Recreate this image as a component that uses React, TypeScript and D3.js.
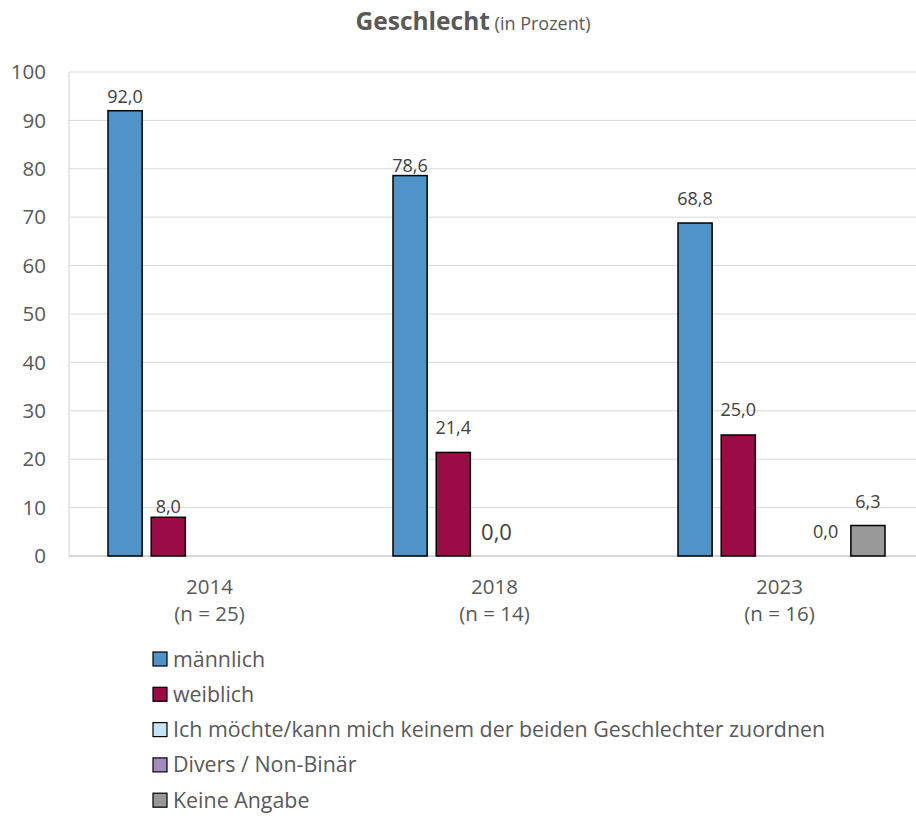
import React, { useEffect, useRef } from "react";
import * as d3 from "d3";

// Werte aus der Grafik (in Prozent)
const years = ["2014", "2018", "2023"];
const sampleSizes = ["(n = 25)", "(n = 14)", "(n = 16)"];
const seriesNames = [
  "männlich",
  "weiblich",
  "Ich möchte/kann mich keinem der beiden Geschlechter zuordnen",
  "Divers / Non-Binär",
  "Keine Angabe",
];
const maennlich = [92.0, 78.6, 68.8];
const weiblich = [8.0, 21.4, 25.0];
const keinemZuordnen: (number | null)[] = [null, 0.0, null];
const divers: (number | null)[] = [null, null, 0.0];
const keineAngabe: (number | null)[] = [null, null, 6.3];
const yTicks = [0, 10, 20, 30, 40, 50, 60, 70, 80, 90, 100];

const seriesValues = [maennlich, weiblich, keinemZuordnen, divers, keineAngabe];
const colors = ["#4f93c8", "#9b0b45", "#c6e3f4", "#a18bbf", "#999999"];

// Abstand Label-Bar wie im Original (manuell verschoben in Excel)
const labelGap = [
  [14, 10, 24],
  [11, 25, 25],
  [0, 24, 0],
  [0, 0, 23],
  [0, 0, 24],
];

const W = 916;
const H = 819;
const left = 69;
const top = 72;
const bottom = 556;
const step = 285;
const font = "'Open Sans', sans-serif";

const GenderChart: React.FC = () => {
  const ref = useRef<SVGSVGElement | null>(null);

  useEffect(() => {
    const svg = d3.select(ref.current);
    svg.selectAll("*").remove();

    const y = d3.scaleLinear().domain([0, 100]).range([bottom, top]);
    const x0 = d3.scaleBand().domain(years).range([left, left + 3 * step]);
    const x1 = d3
      .scaleBand()
      .domain(seriesNames)
      .range([39, 246])
      .paddingInner(0.21);

    // Titel
    const title = svg
      .append("text")
      .attr("x", 473)
      .attr("y", 30)
      .attr("text-anchor", "middle")
      .attr("fill", "#595959")
      .style("font-family", font);
    title.append("tspan").attr("font-weight", "bold").attr("font-size", 24.5).text("Geschlecht");
    title.append("tspan").attr("font-size", 18).text(" (in Prozent)");

    // Gitterlinien
    svg
      .append("g")
      .selectAll("line")
      .data(yTicks.filter((t) => t > 0))
      .join("line")
      .attr("x1", left)
      .attr("x2", W)
      .attr("y1", (d) => y(d))
      .attr("y2", (d) => y(d))
      .attr("stroke", "#d9d9d9")
      .attr("stroke-width", 1);

    // Achsen
    svg
      .append("line")
      .attr("x1", left)
      .attr("x2", left)
      .attr("y1", top)
      .attr("y2", bottom)
      .attr("stroke", "#d0d0d0");
    svg
      .append("line")
      .attr("x1", left)
      .attr("x2", W)
      .attr("y1", bottom)
      .attr("y2", bottom)
      .attr("stroke", "#c8c8c8")
      .attr("stroke-width", 1.5);

    // Y-Beschriftung
    svg
      .append("g")
      .selectAll("text")
      .data(yTicks)
      .join("text")
      .attr("x", 46)
      .attr("y", (d) => y(d))
      .attr("dy", "0.35em")
      .attr("text-anchor", "end")
      .attr("fill", "#595959")
      .attr("font-size", 20.5)
      .style("font-family", font)
      .text((d) => d);

    // X-Beschriftung
    const xl = svg
      .append("g")
      .selectAll("g")
      .data(years)
      .join("g")
      .attr("transform", (d) => `translate(${x0(d)! + x0.bandwidth() / 2 - 2},0)`);
    xl.append("text")
      .attr("y", 594)
      .attr("text-anchor", "middle")
      .attr("fill", "#595959")
      .attr("font-size", 20.5)
      .style("font-family", font)
      .text((d) => d);
    xl.append("text")
      .attr("y", 621)
      .attr("text-anchor", "middle")
      .attr("fill", "#595959")
      .attr("font-size", 20.5)
      .style("font-family", font)
      .text((d, i) => sampleSizes[i]);

    // Balken + Labels
    const groups = svg
      .append("g")
      .selectAll("g")
      .data(years)
      .join("g")
      .attr("transform", (d) => `translate(${x0(d)},0)`);

    groups.each(function (yr, yi) {
      const g = d3.select(this);
      seriesNames.forEach((s, si) => {
        const v = seriesValues[si][yi];
        if (v === null || v === undefined) return;
        const bx = x1(s)!;
        if (v > 0) {
          g.append("rect")
            .attr("x", bx)
            .attr("y", y(v))
            .attr("width", x1.bandwidth())
            .attr("height", bottom - y(v))
            .attr("fill", colors[si])
            .attr("stroke", "#000")
            .attr("stroke-width", 1.5);
        }
        const big = si === 2;
        g.append("text")
          .attr("x", bx + x1.bandwidth() / 2 + (si === 3 ? 1 : 0))
          .attr("y", v > 0 ? y(v) - labelGap[si][yi] : 532)
          .attr("dy", "0.35em")
          .attr("text-anchor", "middle")
          .attr("fill", "#404040")
          .attr("font-size", big ? 22 : 18)
          .style("font-family", font)
          .text(d3.format(".1f")(v).replace(".", ","));
      });
    });

    // Legende
    const leg = svg
      .append("g")
      .selectAll("g")
      .data(seriesNames)
      .join("g")
      .attr("transform", (d, i) => `translate(153,${659 + i * 35.3})`);
    leg.append("rect")
      .attr("x", 0)
      .attr("y", -7)
      .attr("width", 14)
      .attr("height", 14)
      .attr("fill", (d, i) => colors[i])
      .attr("stroke", "#000")
      .attr("stroke-width", 1.2);
    leg.append("text")
      .attr("x", 20)
      .attr("dy", "0.35em")
      .attr("fill", "#595959")
      .attr("font-size", 21.4)
      .style("font-family", font)
      .text((d) => d);
  }, []);

  return (
    <svg
      ref={ref}
      width={W}
      height={H}
      style={{ position: "absolute", left: 0, top: 0, background: "#fff" }}
    />
  );
};

const App: React.FC = () => <GenderChart />;

export default App;
